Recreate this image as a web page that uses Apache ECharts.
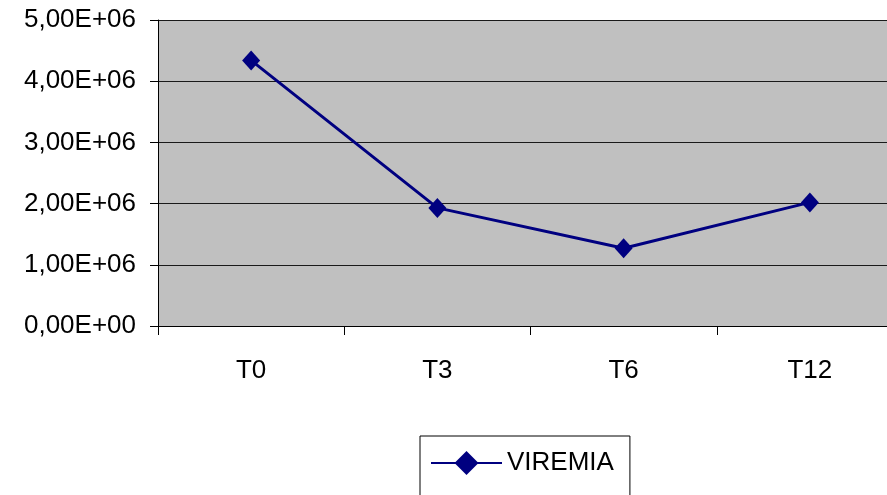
<!DOCTYPE html>
<html>
<head>
<meta charset="utf-8">
<script src="https://cdn.jsdelivr.net/npm/echarts@6/dist/echarts.min.js"></script>
<style>
  html, body { margin: 0; padding: 0; background: #ffffff; }
  #chart { width: 887px; height: 495px; }
</style>
</head>
<body>
<div id="chart"></div>
<script>
// Time points and viral load values
const categories = ['T0', 'T3', 'T6', 'T12'];
const viremia = [4340000, 1930000, 1270000, 2020000];
const seriesName = 'VIREMIA';

// Y axis range
const yMin = 0;
const yMax = 5000000;
const yStep = 1000000;

// Scientific notation with comma decimal separator, e.g. 5,00E+06
function sciLabel(v) {
  if (v === 0) return '0,00E+00';
  const parts = v.toExponential(2).split('e');
  const mant = parts[0].replace('.', ',');
  const exp = parseInt(parts[1], 10);
  const sign = exp < 0 ? '-' : '+';
  const digits = String(Math.abs(exp)).padStart(2, '0');
  return mant + 'E' + sign + digits;
}

const FONT = '"Liberation Sans", Arial, sans-serif';
const NAVY = '#000080';

const chart = echarts.init(document.getElementById('chart'), null, { renderer: 'canvas' });

chart.setOption({
  animation: false,
  backgroundColor: '#ffffff',
  textStyle: { fontFamily: FONT, color: '#000' },
  grid: {
    left: 158,
    top: 20,
    right: -16,
    bottom: 169,
    show: true,
    backgroundColor: '#c0c0c0',
    borderWidth: 0,
    containLabel: false,
    outerBoundsMode: 'none'
  },
  legend: {
    left: 420,
    top: 436,
    orient: 'horizontal',
    data: [seriesName],
    backgroundColor: '#ffffff',
    borderColor: '#000000',
    borderWidth: 1,
    borderRadius: 0,
    padding: [14, 16, 40, 10],
    itemWidth: 71,
    itemHeight: 30,
    itemGap: 7,
    selectedMode: false,
    textStyle: { fontFamily: FONT, fontSize: 26, color: '#000', padding: [0, 0, 0, 0] }
  },
  xAxis: {
    type: 'category',
    data: categories,
    boundaryGap: true,
    axisLine: { show: true, lineStyle: { color: '#000', width: 1 } },
    axisTick: { show: true, length: 9, lineStyle: { color: '#000' } },
    axisLabel: { fontFamily: FONT, fontSize: 26, color: '#000', margin: 32 },
    splitLine: { show: false }
  },
  yAxis: {
    type: 'value',
    min: yMin,
    max: yMax,
    interval: yStep,
    axisLine: { show: true, lineStyle: { color: '#000', width: 1 } },
    axisTick: { show: true, length: 8, lineStyle: { color: '#000' } },
    axisLabel: {
      fontFamily: FONT, fontSize: 26, color: '#000', margin: 22,
      formatter: sciLabel
    },
    splitLine: { show: true, lineStyle: { color: '#1a1a1a', width: 1 } }
  },
  series: [{
    name: seriesName,
    type: 'line',
    data: viremia,
    symbol: 'diamond',
    symbolSize: [18, 20],
    lineStyle: { color: NAVY, width: 3 },
    itemStyle: { color: NAVY },
    emphasis: { disabled: true }
  }]
});
</script>
</body>
</html>
